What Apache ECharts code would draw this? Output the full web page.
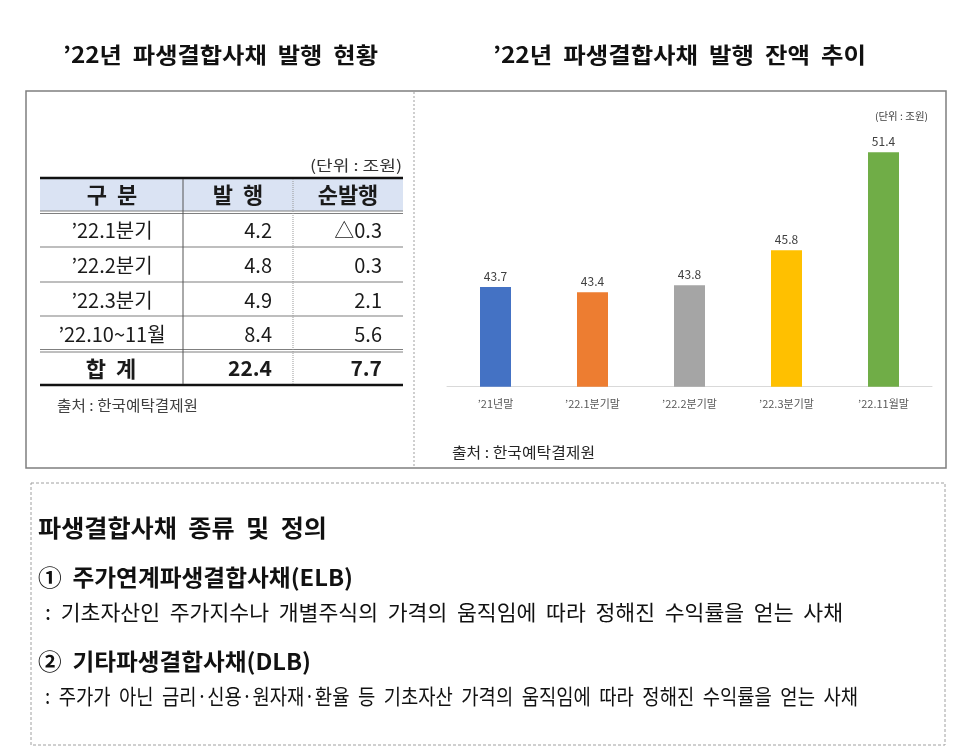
<!DOCTYPE html>
<html>
<head>
<meta charset="utf-8">
<script src="https://cdn.jsdelivr.net/npm/echarts@6/dist/echarts.min.js"></script>
<style>
html,body{margin:0;padding:0;background:#fff;}
#main{width:960px;height:756px;}
</style>
</head>
<body>
<div id="main"></div>
<script>
// 표 데이터 (단위 : 조원)
var tableHeader = ['구  분', '발  행', '순발행'];
var tablePeriods = ['’22.1분기', '’22.2분기', '’22.3분기', '’22.10~11월'];
var tableIssued = ['4.2', '4.8', '4.9', '8.4'];
var tableNet = ['△0.3', '0.3', '2.1', '5.6'];
var tableTotal = ['합  계', '22.4', '7.7'];

// 잔액 추이 데이터 (단위 : 조원)
var balanceCategories = ['’21년말', '’22.1분기말', '’22.2분기말', '’22.3분기말', '’22.11월말'];
var balanceValues = [43.7, 43.4, 43.8, 45.8, 51.4];
var barColors = ['#4472C4', '#ED7D31', '#A5A5A5', '#FFC000', '#70AD47'];

var titleLeft = '’22년  파생결합사채  발행  현황';
var titleRight = '’22년  파생결합사채  발행  잔액  추이';
var unitText = '(단위 : 조원)';
var sourceText = '출처 : 한국예탁결제원';
var defTitle = '파생결합사채  종류  및  정의';
var defItems = [
	'①  주가연계파생결합사채(ELB)',
	':  기초자산인  주가지수나  개별주식의  가격의  움직임에  따라  정해진  수익률을  얻는  사채',
	'②  기타파생결합사채(DLB)',
	':  주가가  아닌  금리·신용·원자재·환율  등  기초자산  가격의  움직임에  따라  정해진  수익률을  얻는  사채'
];

var FONT = '"Noto Sans CJK KR", "Noto Sans", sans-serif';
var measureCtx = document.createElement('canvas').getContext('2d');

//글자 폭을 원본 폭에 맞춤
function fitText(text, x, y, width, size, weight, color){
	var fw = weight || 'normal';
	measureCtx.font = fw + ' ' + size + 'px ' + FONT;
	var w = measureCtx.measureText(text).width;
	return {
		type: 'text', x: x, y: y, scaleX: width / w,
		style: {text: text, x: 0, y: 0, fontSize: size, fontWeight: fw, fontFamily: FONT,
			fill: color || '#111', verticalAlign: 'middle', align: 'left'}
	};
}

function txt(text, x, y, size, weight, align, color){
	return {
		type: 'text',
		style: {text: text, x: x, y: y, fontSize: size, fontWeight: weight || 'normal', fontFamily: FONT,
			fill: color || '#1a1a1a', align: align || 'center', verticalAlign: 'middle'}
	};
}

function hline(x1, x2, y, color, lw, dash){
	return {type: 'line', shape: {x1: x1, y1: y, x2: x2, y2: y},
		style: {stroke: color, lineWidth: lw, lineDash: dash || null}};
}
function vline(x, y1, y2, color, lw, dash){
	return {type: 'line', shape: {x1: x, y1: y1, x2: x, y2: y2},
		style: {stroke: color, lineWidth: lw, lineDash: dash || null}};
}

var g = [];
// 제목
g.push(fitText(titleLeft, 63, 55, 315, 22, 'bold', '#111'));
g.push(fitText(titleRight, 493, 55, 373, 22, 'bold', '#111'));
// 바깥 상자
g.push({type: 'rect', shape: {x: 26, y: 91, width: 920, height: 377},
	style: {fill: 'none', stroke: '#7f7f7f', lineWidth: 1.5}});
g.push(vline(414, 92, 467, '#a0a0a0', 1, [2, 2]));
// 아래 상자
g.push({type: 'rect', shape: {x: 31, y: 483, width: 914, height: 262},
	style: {fill: 'none', stroke: '#a0a0a0', lineWidth: 1, lineDash: [3, 2]}});

// 표
var tL = 40, tR = 403, c1 = 183, c2 = 293;
var rowEdges = [211, 247, 282, 316, 350, 385];
g.push({type: 'rect', shape: {x: tL, y: 178, width: tR - tL, height: 33}, style: {fill: '#dae3f3'}});
g.push(fitText(unitText, 310, 165, 92, 15, 'normal', '#333'));
g.push(txt(tableHeader[0], 112, 195, 22, 'bold'));
g.push(txt(tableHeader[1], 238, 195, 22, 'bold'));
g.push(txt(tableHeader[2], 348, 195, 22, 'bold'));
for (var i = 0; i < tablePeriods.length; i++) {
	var cy = (rowEdges[i] + rowEdges[i + 1]) / 2 + 1;
	g.push(txt(tablePeriods[i], 112, cy, 20));
	g.push(txt(tableIssued[i], 272, cy, 20, 'normal', 'right'));
	g.push(txt(tableNet[i], 382, cy, 20, 'normal', 'right'));
}
var ty = (rowEdges[4] + rowEdges[5]) / 2 + 1;
g.push(txt(tableTotal[0], 111, ty, 22, 'bold'));
g.push(txt(tableTotal[1], 272, ty, 21, 'bold', 'right'));
g.push(txt(tableTotal[2], 382, ty, 21, 'bold', 'right'));
// 표 선
g.push(hline(tL, tR, 178, '#111', 2.5));
g.push(hline(tL, tR, 211, '#7f7f7f', 1));
g.push(hline(tL, tR, 213.5, '#7f7f7f', 1));
g.push(hline(tL, tR, 247, '#7f7f7f', 1.2));
g.push(hline(tL, tR, 282, '#7f7f7f', 1.2));
g.push(hline(tL, tR, 316, '#7f7f7f', 1.2));
g.push(hline(tL, tR, 349.5, '#7f7f7f', 1));
g.push(hline(tL, tR, 352, '#7f7f7f', 1));
g.push(hline(tL, tR, 385, '#111', 2.5));
g.push(vline(c1, 179, 384, '#555', 1));
g.push(vline(c2, 179, 384, '#999', 1, [1, 1]));
g.push(fitText(sourceText, 57, 405, 141, 15, 'normal', '#404040'));

// 차트 주석
g.push(fitText(unitText, 875, 116, 53, 10, 'normal', '#404040'));
g.push(fitText(sourceText, 452, 452, 143, 15, 'normal', '#262626'));

// 정의
g.push(fitText(defTitle, 38, 528, 289, 24, 'bold', '#111'));
g.push(fitText(defItems[0], 38, 577, 315, 23, 'bold', '#111'));
g.push(fitText(defItems[1], 45, 612, 798, 21, 'normal', '#111'));
g.push(fitText(defItems[2], 38, 661, 273, 23, 'bold', '#111'));
g.push(fitText(defItems[3], 45, 696, 813, 21, 'normal', '#111'));

var barData = [];
for (var j = 0; j < balanceValues.length; j++) {
	barData.push({value: balanceValues[j], itemStyle: {color: barColors[j]}});
}

var chart = echarts.init(document.getElementById('main'));
var option = {
	animation: false,
	backgroundColor: '#fff',
	grid: {left: 447, right: 28, top: 106.7, bottom: 369.3, containLabel: false},
	xAxis: {
		type: 'category',
		data: balanceCategories,
		axisTick: {show: false},
		axisLine: {lineStyle: {color: '#d9d9d9', width: 1}},
		axisLabel: {color: '#595959', fontSize: 11, fontFamily: FONT, margin: 12}
	},
	yAxis: {type: 'value', min: 38, max: 54, show: false, splitLine: {show: false}},
	series: [{
		type: 'bar',
		data: barData,
		barWidth: 31,
		label: {show: true, position: 'top', distance: 5, color: '#404040', fontSize: 12, fontFamily: FONT}
	}],
	graphic: g
};
chart.setOption(option);
</script>
</body>
</html>
